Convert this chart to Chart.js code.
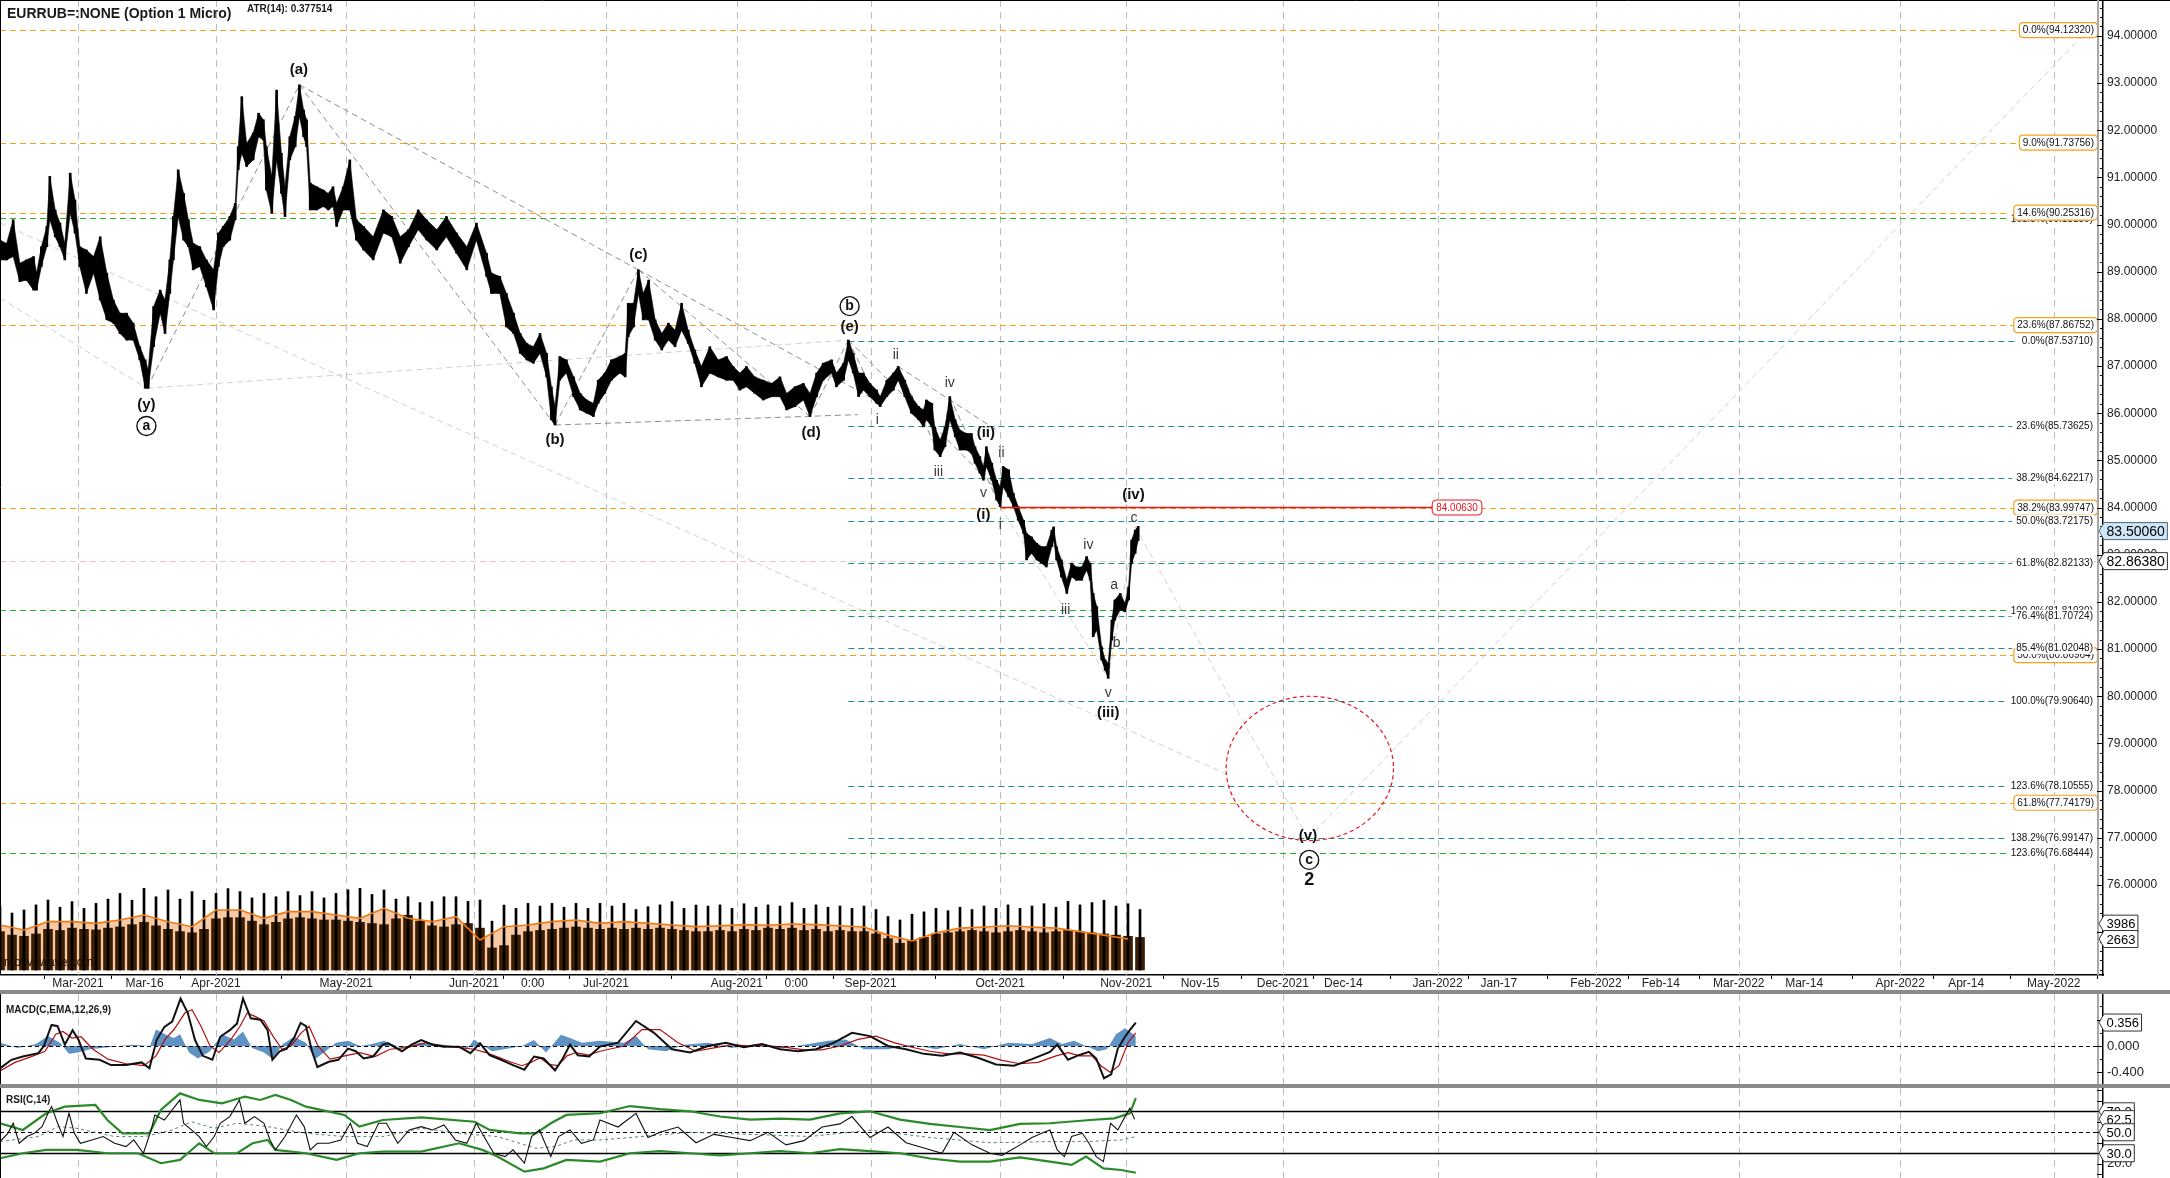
<!DOCTYPE html>
<html>
<head>
<meta charset="utf-8">
<script src="https://cdn.jsdelivr.net/npm/chart.js@4.4.1/dist/chart.umd.min.js"></script>
<style>
html,body{margin:0;padding:0;background:#fff;}
body{width:2170px;height:1178px;position:relative;overflow:hidden;}
canvas{position:absolute;left:0;}
.sep{position:absolute;left:0;width:2170px;height:4px;background:#8a8a8a;}
</style>
</head>
<body>
<canvas id="main" width="2170" height="990" style="top:0"></canvas>
<div class="sep" style="top:990px"></div>
<canvas id="macd" width="2170" height="90" style="top:994px"></canvas>
<div class="sep" style="top:1084px"></div>
<canvas id="rsi" width="2170" height="90" style="top:1088px"></canvas>
<script>
// ================= DATA =================
// x unit = bar index (trading-bar slots on the chart's time axis)
const dateTickBars = [13.0, 24.1, 36.0, 57.7, 79.0, 88.8, 101.0, 122.8, 132.7, 145.1, 166.7, 187.7, 200.0, 213.8, 223.9, 239.6, 249.8, 266.0, 276.8, 289.8, 300.7, 316.7, 327.7, 342.3];
const dateTickLabels = ['Mar-2021','Mar-16','Apr-2021','May-2021','Jun-2021','0:00','Jul-2021','Aug-2021','0:00','Sep-2021','Oct-2021','Nov-2021','Nov-15','Dec-2021','Dec-14','Jan-2022','Jan-17','Feb-2022','Feb-14','Mar-2022','Mar-14','Apr-2022','Apr-14','May-2022'];
const priceTicks = [76,77,78,79,80,81,82,83,84,85,86,87,88,89,90,91,92,93,94];

const priceBar = [0,1.1,2.2,3.3,4.4,5.6,6.1,6.9,7.8,8.3,9.2,10,10.8,11.7,12.5,13.3,14.4,15.6,16.7,17.8,
18.9,20,21.1,22.2,23.3,24.2,24.7,25.6,26.7,27.5,28.3,28.9,29.7,30.6,31.4,32.2,33.3,34.4,35.6,36.4,
37.2,38.3,39.2,39.7,40.3,41.1,42.2,43.1,43.9,44.4,45.3,46.1,46.9,47.5,48.3,49.2,49.9,50.6,51.1,51.7,
52.8,53.9,54.7,55.5,56.1,57.2,58.3,59.4,60.6,62.2,63.9,65.3,66.7,68.1,69.7,71.1,72.8,74.4,76.1,77.8,
79.4,81.1,81.9,83.3,84.4,85.6,86.7,87.8,88.9,90,91.1,91.9,92.5,93.3,94.4,95.6,96.7,97.8,98.9,99.7,
100.8,101.9,103.3,104.2,104.7,105.6,106.4,107.2,108.1,109.2,110.3,111.4,112.5,113.6,114.7,115.8,116.9,118.3,119.7,121.1,
122.2,123.3,124.4,125.8,127.2,128.6,130,131.1,132.5,133.9,135,136.1,137.2,138.6,139.4,140.6,141.4,142.2,143.1,143.9,
145,146.1,146.7,147.8,148.9,149.7,150.8,151.9,153.1,153.9,154.4,155.3,155.8,156.7,157.5,158.3,159.2,160,161.1,161.9,
162.5,163.3,163.9,164.4,165.3,166.1,166.7,167.2,168.1,168.9,169.7,170.6,171.1,171.9,172.8,173.6,174.4,175.3,175.6,176.1,
176.9,177.8,178.6,179.4,180.3,181.1,181.7,182.2,182.8,183.6,184.2,184.7,185.3,185.8,186.7,187.5,188.1,188.6,189.2,189.7];
const priceHigh = [89.67,89.60,90.10,89.18,89.25,89.32,88.97,89.53,89.96,91.02,90.31,90.03,89.60,91.09,90.52,89.53,89.46,89.32,89.74,88.97,
88.40,88.12,88.12,87.91,87.41,87.13,86.92,88.26,88.61,88.40,89.25,90.17,91.16,90.66,90.10,89.60,89.53,89.25,89.04,89.82,
89.96,90.17,90.45,91.65,92.71,91.72,91.94,92.36,92.22,91.65,91.02,92.85,91.51,90.80,91.86,92.29,92.96,92.43,92.22,90.88,
90.80,90.73,90.66,90.80,90.45,90.80,91.37,90.10,89.96,89.74,90.31,90.17,89.74,89.89,90.31,90.10,89.89,90.17,89.82,89.53,
90.03,89.39,88.97,88.90,88.54,88.12,87.69,87.48,87.41,87.69,87.27,86.56,86.14,87.20,87.13,86.77,86.42,86.28,86.21,86.70,
86.85,87.13,87.20,87.27,88.33,88.33,89.04,88.54,88.82,87.98,87.69,87.91,87.76,88.33,87.76,87.34,86.99,87.41,87.13,87.20,
86.99,86.85,86.99,86.77,86.70,86.63,86.77,86.42,86.56,86.63,86.42,86.85,87.06,87.13,86.85,87.06,87.55,87.27,86.85,86.85,
86.63,86.49,86.35,86.70,86.85,86.99,86.70,86.35,86.14,86.07,86.28,86.21,85.71,85.43,85.71,86.35,85.86,85.64,85.57,85.57,
85.29,85.08,84.87,85.29,84.94,84.58,84.44,84.87,84.80,84.30,84.02,83.73,83.45,83.38,83.24,83.17,83.17,83.52,83.59,83.17,
82.89,82.46,82.82,82.74,82.74,82.96,82.82,82.18,81.90,81.05,80.77,80.70,81.61,82.04,82.18,81.97,82.32,83.31,83.52,83.60];
const priceLow = [89.25,89.25,89.32,88.79,88.82,88.61,88.61,89.11,89.53,90.10,89.74,89.53,89.25,90.24,89.82,89.11,88.54,88.97,88.40,87.98,
87.91,87.69,87.55,87.55,87.13,86.53,86.53,87.41,88.12,87.69,88.54,89.25,90.17,89.67,89.53,89.04,89.11,88.68,88.19,89.11,
89.53,89.67,90.10,91.16,91.51,91.23,91.37,91.86,91.79,90.73,90.24,91.37,90.66,90.17,91.37,91.65,92.29,91.86,91.65,90.31,
90.31,90.38,90.31,90.38,89.96,90.31,90.31,89.67,89.46,89.25,89.82,89.74,89.18,89.53,89.89,89.67,89.46,89.74,89.39,89.04,
89.67,88.90,88.54,88.54,87.83,87.69,87.27,87.13,87.06,87.27,86.77,85.86,85.75,86.70,86.85,86.35,86.07,86.00,85.93,86.21,
86.42,86.70,86.85,86.77,87.62,87.83,88.54,87.98,87.98,87.55,87.34,87.55,87.41,87.76,87.48,87.06,86.56,86.85,86.77,86.70,
86.70,86.49,86.56,86.42,86.28,86.35,86.35,86.07,86.14,86.28,85.93,86.35,86.70,86.85,86.56,86.70,87.13,86.85,86.35,86.49,
86.35,86.21,86.14,86.35,86.49,86.70,86.35,86.00,85.86,85.71,85.86,85.71,85.22,85.08,85.29,85.86,85.50,85.22,85.22,85.15,
84.94,84.73,84.58,84.87,84.58,84.16,84.02,84.44,84.23,84.02,83.73,83.45,82.89,83.03,82.89,82.82,82.74,83.17,83.31,82.89,
82.53,82.18,82.53,82.46,82.46,82.67,82.46,81.26,81.40,80.77,80.55,80.38,81.19,81.61,81.83,81.79,82.04,82.82,83.03,83.30];
const lastPrice = 83.50060;
const markPrice = 82.86380;

const volBar = [0,2,4,6,8,10,12,14,16,18,20,22,24,26,28,30,32,34,36,38,40,42,44,46,48,50,52,54,56,58,60,62,64,66,68,70,72,74,76,78,80,82,84,86,88,90,92,94,
96,98,100,102,104,106,108,110,112,114,116,118,120,122,124,126,128,130,132,134,136,138,140,142,144,146,148,150,152,154,156,158,160,162,164,166,168,170,172,174,176,178,180,182,184,186,188,190];
const volSpike = [5450,4900,5160,5600,6020,5400,5880,5300,5730,6100,6590,6000,7020,6300,6880,6100,6740,6000,6590,7000,6740,6200,6590,6300,
6740,6400,6740,6200,6590,6900,7020,6500,6880,6100,6300,5800,5880,6300,6300,5900,6020,4200,5590,5300,5730,5500,5730,5400,
5730,5300,5730,5500,5730,5200,5450,5600,5880,5300,5590,5500,5600,5300,5700,5400,5600,5500,5800,5300,5600,5400,5500,5300,
5500,5200,4600,4300,4800,5000,5300,5100,5400,5200,5500,5300,5600,5300,5500,5700,5400,5900,5600,5800,6000,5500,5700,5200];
const volBody = [3300,3000,2900,3100,3500,3400,3600,3500,3450,3600,3700,3900,4100,3800,3500,3300,3200,3500,4400,4500,4500,4200,3900,4100,
4400,4500,4400,4300,4300,4200,4100,4000,3900,4400,4700,4200,3800,3700,3900,4000,3600,1900,2100,3000,3300,3400,3500,3600,
3700,3600,3500,3600,3500,3600,3500,3600,3500,3400,3300,3300,3400,3300,3500,3400,3600,3500,3600,3400,3500,3300,3400,3300,
3300,3100,2700,2300,2500,2800,3100,3200,3300,3400,3300,3200,3300,3400,3300,3200,3300,3400,3300,3200,3100,3000,2900,2800];
const volMABar = [0,4,8,12,16,20,24,28,32,36,40,44,48,52,56,60,64,68,72,76,80,84,88,92,96,100,104,108,112,116,120,124,128,132,136,140,144,148,152,156,160,164,168,172,176,180,184,188];
const volMA = [3870,3440,4157,4157,4013,4300,4730,4157,3727,5160,5160,4443,5017,5017,4730,4443,5303,4443,4157,4587,2580,3727,3870,4157,
4300,4013,4157,4013,3870,3727,3800,3900,3850,3950,3900,3800,3700,3000,2500,3200,3600,3700,3800,3700,3600,3300,3000,2663];
const lastVolume = 3986;
const lastVolumeMA = 2663;

// Fibonacci levels
const orangeFibPrice = [94.12320, 91.73756, 90.25316, 87.86752, 83.99747, 80.86964, 77.74179];
const orangeFibText = ['0.0%(94.12320)','9.0%(91.73756)','14.6%(90.25316)','23.6%(87.86752)','38.2%(83.99747)','50.0%(80.86964)','61.8%(77.74179)'];
const greenFibPrice = [90.13180, 81.81930, 76.68444];
const greenFibText = ['161.8%(90.13180)','100.0%(81.81930)','123.6%(76.68444)'];
const tealFibStartBar = 141.4;
const tealFibPrice = [87.53710, 85.73625, 84.62217, 83.72175, 82.82133, 81.70724, 81.02048, 79.90640, 78.10555, 76.99147];
const tealFibText = ['0.0%(87.53710)','23.6%(85.73625)','38.2%(84.62217)','50.0%(83.72175)','61.8%(82.82133)','76.4%(81.70724)','85.4%(81.02048)','100.0%(79.90640)','123.6%(78.10555)','138.2%(76.99147)'];
const redLevelPrice = 84.00630;
const redLevelStartBar = 166.7;
const redLevelEndBar = 238.7;

// Elliott wave labels
const waveText  = ['(a)','(y)','(b)','(c)','(d)','(e)','i','ii','iii','iv','v','(ii)','ii','(i)','i','iii','iv','a','b','v','(iii)','c','(iv)','(v)'];
const waveBar   = [49.8,24.4,92.5,106.4,135.2,141.6,146.2,149.3,156.4,158.3,163.9,164.3,166.9,163.9,166.7,177.6,181.4,185.7,186.1,184.7,184.7,189.0,188.9,218.0];
const wavePrice = [93.28,86.17,85.43,89.36,85.59,87.82,85.86,87.23,84.76,86.63,84.30,85.59,85.15,83.84,83.62,81.83,83.20,82.36,81.13,80.06,79.64,83.77,84.26,77.03];
const circledText  = ['a','b','c'];
const circledBar   = [24.4,141.6,218.2];
const circledPrice = [85.73,88.27,76.53];
const degreeText = '2';
const degreeBar = 218.2, degreePrice = 76.10;

// wave connector segments [bar1, price1, bar2, price2]
const waveSegments = [
  [24.5,86.53,49.9,92.96],[49.9,92.96,92.5,85.75],[92.5,85.75,106.4,89.04],[106.4,89.04,135.0,85.93],[135.0,85.93,141.4,87.55],
  [49.9,92.96,106.4,89.04],[106.4,89.04,145.0,86.34],[92.5,85.75,143.0,85.97],
  [141.4,87.55,146.7,86.14],[146.7,86.14,149.7,86.99],[149.7,86.99,156.7,85.08],[156.7,85.08,158.3,86.35],[158.3,86.35,166.7,84.02],
  [141.4,87.55,166.0,84.40],[149.7,86.99,166.0,85.65]
];
const lightSegments = [
  [24.5,86.53,141.4,87.55],[0,88.44,24.5,86.53],[0,90.03,204.7,78.33],[189.2,83.60,218.0,76.99],[218.0,76.99,349.5,94.32],
  [166.7,84.02,184.7,80.38],[184.7,80.38,189.2,83.60]
];
// target zone (ellipse)
const zoneCenterBar = 218.3, zoneCenterPrice = 78.47, zoneHalfBars = 13.95, zoneHalfPrice = 1.53;

// MACD(12,26,9)
const macdBar = [0,1.9,3.8,6.4,7.3,8.6,9.6,10.8,12.1,13.1,14.3,16.6,18.5,21.0,23.6,24.9,26.1,27.4,28.7,30.1,31.3,32.5,33.8,35.4,36.7,38.3,39.5,40.5,41.8,43.4,44.6,45.4,46.6,47.8,49.1,50.1,51.0,52.0,52.9,54.8,56.4,58.0,59.3,60.6,62.2,63.8,64.7,67.0,68.6,70.2,72.1,74.0,76.5,78.4,80.0,81.6,83.5,85.5,87.4,89.0,90.6,92.5,93.8,95.0,96.3,98.2,100,
103,106,109,112,115,118,121,124,127,130,133,136,139,142,145,148,151,154,157,160,163,166,169,172,
175,176.2,178,179.8,181.5,182.7,184,185.2,186.3,187.5,188.3,189.3];
const macdVal = [-0.34,-0.21,-0.16,-0.11,0.0,0.32,0.30,0.02,0.24,0.09,-0.19,-0.21,-0.29,-0.29,-0.25,-0.34,0.09,0.29,0.37,0.72,0.50,0.09,-0.15,-0.21,0.14,0.24,0.34,0.72,0.42,0.40,0.24,-0.21,-0.08,-0.04,0.14,0.35,0.30,-0.08,-0.32,-0.24,-0.21,-0.04,-0.08,-0.19,-0.16,0.02,0.04,-0.08,0.02,0.09,0.02,-0.01,-0.01,-0.11,0.04,-0.14,-0.21,-0.29,-0.36,-0.16,-0.19,-0.37,-0.19,0.02,-0.14,-0.16,-0.01,
0.05,0.38,0.2,-0.05,-0.1,0.0,0.05,-0.02,0.03,-0.05,-0.08,-0.05,0.05,0.2,0.15,0.0,-0.05,-0.12,-0.15,-0.1,-0.18,-0.28,-0.3,-0.2,
-0.09,0.02,-0.21,-0.14,-0.09,-0.19,-0.49,-0.43,-0.04,0.14,0.24,0.356];
const signalBar = [0,2.5,5,7.5,9.3,10.5,12,13.5,15.5,18,21,24,26,27.5,29,30.8,32,33.5,35,36.5,38.5,40,41.2,42.5,44,45.5,47,48.5,50.2,51.5,53,55,57.5,60,62.5,65,68,71,74,77,79,81,83,85,87,88.5,90,91.5,93,94.5,96,98,100,
104,107,110,113,116,119,122,125,128,131,134,137,140,143,146,149,152,155,158,161,164,167,170,173,
176,178,180,182,183.5,185,186.5,188,189.3];
const signalVal = [-0.38,-0.25,-0.17,-0.08,0.18,0.22,0.12,0.14,-0.05,-0.2,-0.27,-0.3,-0.15,0.1,0.25,0.5,0.55,0.3,0.0,-0.1,0.1,0.3,0.5,0.45,0.38,0.15,-0.05,0.0,0.2,0.3,0.0,-0.2,-0.15,-0.1,-0.16,-0.05,-0.02,0.05,0.0,-0.03,-0.05,-0.1,-0.17,-0.24,-0.3,-0.25,-0.18,-0.28,-0.3,-0.15,-0.1,-0.14,-0.08,
0.0,0.25,0.25,0.05,-0.08,-0.03,0.02,0.0,0.0,-0.02,-0.06,-0.06,0.0,0.1,0.15,0.05,-0.02,-0.08,-0.12,-0.12,-0.14,-0.22,-0.27,-0.25,
-0.15,-0.1,-0.15,-0.15,-0.3,-0.4,-0.3,0.05,0.2];
const histBar = [0,3,6,8,10,11.5,13,15,18,22,25,26,27.5,29,30,31.5,33,35,37,39,40.5,42,44,45.5,47,49,51,52.5,54,56,58,60,62,64,67,70,74,78,79,82,84,87,89,91,93.5,95,97,100,
104,106,108,111,114,118,122,126,130,134,138,141,144,148,152,156,160,164,168,172,
175,177,179,181,183,184.5,186,187.5,189.3];
const histVal = [0.05,-0.03,0.03,0.15,0.05,-0.12,-0.1,-0.05,-0.02,0.02,0.0,0.25,0.18,0.12,0.18,-0.1,-0.19,-0.08,0.18,0.1,0.22,-0.03,-0.1,-0.2,0.02,0.14,0.05,-0.2,-0.1,0.05,0.08,0.0,0.03,0.08,-0.03,0.05,0.02,-0.03,0.1,-0.08,-0.05,0.0,0.09,-0.1,0.17,0.12,0.05,0.08,
0.05,0.15,-0.05,-0.08,0.02,0.05,-0.03,0.03,-0.04,0.02,0.08,0.1,-0.05,-0.05,0.02,-0.05,0.03,-0.05,0.05,0.03,
0.12,0.03,0.08,0.0,-0.08,-0.05,0.18,0.27,0.15];
const macdTicks = [-0.4, 0, 0.4];

// RSI(14)
const rsiBar = [0,1.3,2.2,3.2,4.5,5.7,7.0,8.0,8.6,9.6,10.5,11.5,12.4,13.4,15.3,17.2,19.1,21.0,22.3,23.9,25.2,25.8,27.4,28.7,30.0,30.6,31.9,33.2,34.4,35.7,36.7,38.3,39.9,40.8,42.4,44.0,45.0,45.9,47.5,49.4,50.7,51.7,52.9,54.8,56.8,58.4,59.6,61.2,63.1,64.4,66.3,68.2,70.2,72.1,74.0,75.9,77.8,79.4,81.0,82.3,84.2,85.5,87.4,88.6,89.9,91.8,93.1,95.0,96.9,98.9,100,
103,106,108,110,113,116,119,122,125,128,131,134,137,140,142,145,148,151,154,157,159,162,165,167,170,172,174,
175,176.2,177.4,178.6,180.4,181.5,182.7,183.9,185.1,186.3,187.5,188.3,189.1];
const rsiVal = [41.1,49,58.6,39.5,45.9,49,55.4,68.1,74.4,58.6,45.9,68.1,49,39.5,42.7,45.9,39.5,36.3,42.7,30,52.2,66.5,61.7,71.3,80.8,58.6,52.2,45.9,36.3,45.9,58.6,64.9,80.8,58.6,64.9,58.6,42.7,33.2,45.9,66.5,55.4,33.2,39.5,39.5,42.7,58.6,39.5,36.3,58.6,58.6,39.5,52.2,55.4,52.2,57,42.7,39.5,58.6,42.7,30,26.8,33.2,20.5,45.9,52.2,26.8,45.9,52.2,39.5,42.7,61.7,
55,68,45,50,55,40,48,45,42,50,38,42,55,58,65,45,55,40,35,30,50,38,30,28,38,45,50,
52.2,33.2,26.8,45.9,49,39.5,26.8,22,58.6,52.2,64.9,72.9,62.5];
const rsiUpBar = [0,3.8,7.7,10.8,15.9,17.9,20.4,24.9,26.8,30,33.2,37,38.9,40.8,43.4,45.9,48.5,51,57.4,59.9,63.8,70.2,79.1,81.6,86.7,89.3,91.8,94.4,100,
105,110,115,120,125,130,135,140,145,150,155,160,165,170,175,181.7,185.7,188.3,189.3];
const rsiUpVal = [58.6,52.2,68.1,74.4,76,61.7,49,49,71.3,87.1,80.8,77.6,80.8,84,80.8,85.6,80.8,74.4,66.5,55.4,61.7,64.2,60,52.2,49,49,58.6,66.5,68.1,
75,72,70,65,62,63,62,68,70,62,58,55,52,58,58.6,61.7,63.3,68,82.5];
const rsiLoBar = [0,3.8,7.7,12.8,17.9,23,26.8,30,33.2,35.7,39.5,42.1,44.6,45.9,51,56.1,59.9,63.8,70.2,76.5,80.4,82.9,87.4,90.6,94.4,100,
105,110,115,120,125,130,135,140,145,150,155,160,165,170,175,178.6,181,183.9,186.9,189.3];
const rsiLoVal = [25.2,30,33.2,33.2,30,30,20.5,23.7,39.5,30,30,39.5,42.7,33.2,30,23.7,30,31.6,31.6,39.5,33.2,26.8,12.5,15.6,23.7,22,
30,32,30,28,30,32,30,34,32,30,25,22,22,26,22,18.9,26.8,15.6,14,11.4];
const rsiMaBar = [0,6.4,9.6,12.8,19.1,24.2,28.7,31.9,35.7,39.5,44.6,51,57.4,63.8,70.2,76.5,82.9,89.3,92.5,95.7,100,
105,115,125,135,145,155,165,175,181,186.9,189.3];
const rsiMaVal = [41.1,45.9,55.4,53.8,45.9,45.9,52.2,60,53.8,58.6,55.4,49,45.9,45.9,53.8,49,45.9,34.8,36.3,42.7,42.7,
45,50,48,46,52,45,40,41.1,41.1,42.7,45.9];
const rsiLevels = [70, 50, 30];
const rsiLast = 62.5;

// ================= RENDERING =================
const X_MAX = 350.5;
const P_MIN = 74.09, P_MAX = 94.76;
const VOL_MIN = -430, VOL_MAX = 83420;
const M_MIN = -0.578, M_MAX = 0.790;
const R_MIN = 6.4, R_MAX = 92.2;
const AXIS_W = 67;
const SANS = "'Liberation Sans', Arial, sans-serif";
const NARROW = "'Liberation Sans Narrow', 'Liberation Sans', Arial, sans-serif";
const monthGridBars = dateTickBars.filter((b, i) => /-20\d\d$/.test(dateTickLabels[i]));

const pts = (xs, ys) => xs.map((x, i) => ({x, y: ys[i]}));
function noPad(s) { s.paddingTop = 0; s.paddingBottom = 0; s.paddingLeft = 0; s.paddingRight = 0; }

function drawMonthGrid(chart) {
  const {ctx, chartArea: a, scales: {x}} = chart;
  ctx.save();
  ctx.strokeStyle = '#bdbdbd'; ctx.lineWidth = 1; ctx.setLineDash([7, 5]);
  monthGridBars.forEach(b => {
    const px = Math.round(x.getPixelForValue(b)) + 0.5;
    ctx.beginPath(); ctx.moveTo(px, a.top); ctx.lineTo(px, a.bottom); ctx.stroke();
  });
  ctx.restore();
}
function drawPanelFrame(chart, minorVals, majorVals) {
  const {ctx, chartArea: a, scales: {y}} = chart;
  ctx.save();
  ctx.strokeStyle = '#000'; ctx.lineWidth = 1;
  ctx.beginPath(); ctx.moveTo(0.5, 0); ctx.lineTo(0.5, chart.height); ctx.stroke();
  ctx.strokeStyle = '#a8a8a8'; ctx.lineWidth = 2;
  ctx.beginPath(); ctx.moveTo(a.right - 5, a.top); ctx.lineTo(a.right - 5, a.bottom); ctx.stroke();
  ctx.strokeStyle = '#000'; ctx.lineWidth = 1;
  minorVals.forEach(v => { const py = Math.round(y.getPixelForValue(v)) + 0.5; ctx.beginPath(); ctx.moveTo(a.right - 3, py); ctx.lineTo(a.right, py); ctx.stroke(); });
  majorVals.forEach(v => { const py = Math.round(y.getPixelForValue(v)) + 0.5; ctx.beginPath(); ctx.moveTo(a.right - 6, py); ctx.lineTo(a.right, py); ctx.stroke(); });
  ctx.restore();
}
function drawTag(ctx, xTip, y, text, font, fill, stroke) {
  ctx.save();
  ctx.font = font;
  const w = ctx.measureText(text).width + 5;
  const h = 17, x0 = xTip + 5;
  ctx.beginPath();
  ctx.moveTo(xTip, y); ctx.lineTo(x0, y - h / 2); ctx.lineTo(x0 + w, y - h / 2);
  ctx.lineTo(x0 + w, y + h / 2); ctx.lineTo(x0, y + h / 2); ctx.closePath();
  ctx.fillStyle = fill; ctx.fill();
  ctx.strokeStyle = stroke; ctx.lineWidth = 1; ctx.stroke();
  ctx.fillStyle = '#000'; ctx.textAlign = 'left'; ctx.textBaseline = 'middle';
  ctx.fillText(text, x0 + 2.5, y + 1);
  ctx.restore();
}
function roundRect(ctx, x, y, w, h, r) {
  ctx.beginPath();
  ctx.moveTo(x + r, y); ctx.lineTo(x + w - r, y); ctx.quadraticCurveTo(x + w, y, x + w, y + r);
  ctx.lineTo(x + w, y + h - r); ctx.quadraticCurveTo(x + w, y + h, x + w - r, y + h);
  ctx.lineTo(x + r, y + h); ctx.quadraticCurveTo(x, y + h, x, y + h - r);
  ctx.lineTo(x, y + r); ctx.quadraticCurveTo(x, y, x + r, y); ctx.closePath();
}
const FIB_FONT = '10px ' + SANS;
function fibLabelLeft(ctx, text, boxed) {
  ctx.font = FIB_FONT;
  const w = ctx.measureText(text).width;
  return (boxed ? 2094 : 2093) - w - (boxed ? 3 : 0);
}
function drawFibLabel(ctx, text, py, color, boxed) {
  ctx.save();
  ctx.font = FIB_FONT;
  const w = ctx.measureText(text).width;
  const right = boxed ? 2094 : 2093;
  const left = right - w;
  if (boxed) {
    roundRect(ctx, left - 3.5, py - 7.5, w + 7, 15, 4);
    ctx.fillStyle = '#fff'; ctx.fill();
    ctx.strokeStyle = color; ctx.lineWidth = 1.2; ctx.stroke();
  } else {
    ctx.fillStyle = '#fff'; ctx.fillRect(left - 1, py - 6, w + 2, 12);
  }
  ctx.fillStyle = '#111'; ctx.textAlign = 'left'; ctx.textBaseline = 'middle';
  ctx.fillText(text, left, py + 0.5);
  ctx.restore();
}
const ORANGE = '#f7a11a', TEAL = '#1f8e8a', GREEN = '#29b529';

const mainDeco = {
  id: 'mainDeco',
  beforeDatasetsDraw(chart) {
    const {ctx, chartArea: a, scales: {x, y}} = chart;
    drawMonthGrid(chart);
    ctx.save();
    ctx.lineWidth = 1; ctx.setLineDash([6, 4]);
    const hline = (price, startBar, endPx, color) => {
      const py = Math.round(y.getPixelForValue(price)) + 0.5;
      ctx.strokeStyle = color;
      ctx.beginPath(); ctx.moveTo(x.getPixelForValue(startBar), py); ctx.lineTo(endPx, py); ctx.stroke();
    };
    hline(markPrice, 0, a.right - 6, '#f2c4c4');
    greenFibPrice.forEach((p, i) => hline(p, 0, fibLabelLeft(ctx, greenFibText[i], false) - 3, GREEN));
    orangeFibPrice.forEach((p, i) => hline(p, 0, fibLabelLeft(ctx, orangeFibText[i], true) - 1, ORANGE));
    tealFibPrice.forEach((p, i) => hline(p, tealFibStartBar, fibLabelLeft(ctx, tealFibText[i], false) - 4, TEAL));
    ctx.restore();
  },
  afterDatasetsDraw(chart) {
    const {ctx, chartArea: a, scales: {x, y}} = chart;
    ctx.save();
    const ry = Math.round(y.getPixelForValue(redLevelPrice)) + 0.5;
    ctx.strokeStyle = '#e8141e'; ctx.lineWidth = 1.6;
    ctx.beginPath(); ctx.moveTo(x.getPixelForValue(redLevelStartBar), ry); ctx.lineTo(x.getPixelForValue(redLevelEndBar), ry); ctx.stroke();
    ctx.font = FIB_FONT;
    const rt = redLevelPrice.toFixed(5);
    const rw = ctx.measureText(rt).width;
    const rx = x.getPixelForValue(redLevelEndBar);
    roundRect(ctx, rx, ry - 7.5, rw + 8, 15, 4);
    ctx.fillStyle = '#fff'; ctx.fill(); ctx.strokeStyle = '#e8141e'; ctx.lineWidth = 1; ctx.stroke();
    ctx.fillStyle = '#e8141e'; ctx.textBaseline = 'middle'; ctx.fillText(rt, rx + 4, ry + 0.5);
    ctx.restore();
    greenFibPrice.forEach((p, i) => drawFibLabel(ctx, greenFibText[i], y.getPixelForValue(p), GREEN, false));
    orangeFibPrice.forEach((p, i) => drawFibLabel(ctx, orangeFibText[i], y.getPixelForValue(p), ORANGE, true));
    tealFibPrice.forEach((p, i) => drawFibLabel(ctx, tealFibText[i], y.getPixelForValue(p), TEAL, false));
    ctx.save();
    const cx = x.getPixelForValue(zoneCenterBar), cy = y.getPixelForValue(zoneCenterPrice);
    const erx = x.getPixelForValue(zoneCenterBar + zoneHalfBars) - cx;
    const ery = y.getPixelForValue(zoneCenterPrice - zoneHalfPrice) - cy;
    ctx.strokeStyle = '#e8141e'; ctx.lineWidth = 1.2; ctx.setLineDash([4, 3]);
    ctx.beginPath(); ctx.ellipse(cx, cy, erx, ery, 0, 0, Math.PI * 2); ctx.stroke();
    ctx.restore();
    ctx.save();
    ctx.textAlign = 'center'; ctx.textBaseline = 'middle';
    waveText.forEach((t, i) => {
      const px = x.getPixelForValue(waveBar[i]), py = y.getPixelForValue(wavePrice[i]);
      if (t.startsWith('(')) { ctx.font = 'bold 15px ' + SANS; ctx.fillStyle = '#111'; }
      else { ctx.font = '14px ' + SANS; ctx.fillStyle = '#3a3a3a'; }
      ctx.fillText(t, px, py);
    });
    circledText.forEach((t, i) => {
      const px = x.getPixelForValue(circledBar[i]), py = y.getPixelForValue(circledPrice[i]);
      ctx.beginPath(); ctx.arc(px, py, 9.5, 0, Math.PI * 2);
      ctx.fillStyle = '#fff'; ctx.fill();
      ctx.strokeStyle = '#111'; ctx.lineWidth = 1.4; ctx.stroke();
      ctx.fillStyle = '#111'; ctx.font = 'bold 14px ' + SANS; ctx.fillText(t, px, py);
    });
    ctx.font = 'bold 18px ' + SANS; ctx.fillStyle = '#111';
    ctx.fillText(degreeText, x.getPixelForValue(degreeBar), y.getPixelForValue(degreePrice));
    ctx.restore();
  },
  afterDraw(chart) {
    const {ctx, chartArea: a, scales: {y, yv}} = chart;
    ctx.save();
    ctx.strokeStyle = '#000'; ctx.lineWidth = 1;
    ctx.beginPath(); ctx.moveTo(0, 0.5); ctx.lineTo(2170, 0.5); ctx.stroke();
    ctx.beginPath(); ctx.moveTo(0.5, 0); ctx.lineTo(0.5, a.bottom); ctx.stroke();
    ctx.strokeStyle = '#a8a8a8'; ctx.lineWidth = 2;
    ctx.beginPath(); ctx.moveTo(a.right - 5, a.top); ctx.lineTo(a.right - 5, a.bottom); ctx.stroke();
    ctx.strokeStyle = '#000'; ctx.lineWidth = 1;
    for (let v = 74.2; v <= 94.7; v += 0.2) {
      const r = Math.abs(v - Math.round(v)) < 0.01;
      const py = Math.round(y.getPixelForValue(v)) + 0.5;
      ctx.beginPath(); ctx.moveTo(a.right - (r ? 6 : 3), py); ctx.lineTo(a.right, py); ctx.stroke();
    }
    ctx.font = '12px ' + SANS; ctx.fillStyle = '#161008'; ctx.textBaseline = 'alphabetic';
    ctx.fillText('motivewave.com', 4, 966);
    ctx.fillStyle = '#1a1a1a';
    ctx.font = 'bold 14px ' + SANS; ctx.fillText('EURRUB=:NONE (Option 1 Micro)', 7, 18);
    ctx.font = 'bold 10px ' + SANS; ctx.fillText('ATR(14): 0.377514', 247, 12);
    ctx.restore();
    drawTag(ctx, a.right - 4, y.getPixelForValue(lastPrice), lastPrice.toFixed(5), '14px ' + SANS, '#cfe6f6', '#4a6a80');
    drawTag(ctx, a.right - 4, y.getPixelForValue(markPrice), markPrice.toFixed(5), '14px ' + SANS, '#ffffff', '#333');
    drawTag(ctx, a.right - 4, yv.getPixelForValue(lastVolume), String(lastVolume), '13px ' + SANS, '#ffffff', '#333');
    drawTag(ctx, a.right - 4, yv.getPixelForValue(lastVolumeMA), String(lastVolumeMA), '13px ' + SANS, '#ffffff', '#333');
  }
};

const lineDs = (data, color, width, extra) => Object.assign({type: 'line', data, borderColor: color, borderWidth: width, pointRadius: 0, tension: 0, fill: false}, extra || {});

const mainDatasets = [
  {type: 'bar', data: priceBar.map((b, i) => ({x: b, y: [priceLow[i], priceHigh[i]]})), backgroundColor: '#000', barThickness: 2, grouped: false, order: 1},
  lineDs(pts(priceBar, priceHigh), '#000', 0.6, {fill: '+1', backgroundColor: '#000', order: 2}),
  lineDs(pts(priceBar, priceLow), '#000', 0.6, {order: 2}),
];
waveSegments.forEach(s => mainDatasets.push(lineDs([{x: s[0], y: s[1]}, {x: s[2], y: s[3]}], '#8e8e8e', 1, {borderDash: [6, 4], order: 4})));
lightSegments.forEach(s => mainDatasets.push(lineDs([{x: s[0], y: s[1]}, {x: s[2], y: s[3]}], '#d0d0d0', 1, {borderDash: [6, 4], order: 5})));
mainDatasets.push(lineDs(pts(volMABar, volMA), '#f07a10', 1.6, {yAxisID: 'yv', order: 6}));
mainDatasets.push({type: 'bar', data: pts(volBar, volSpike), yAxisID: 'yv', backgroundColor: '#000', barThickness: 2, grouped: false, order: 7});
mainDatasets.push({type: 'bar', data: pts(volBar, volBody), yAxisID: 'yv', backgroundColor: '#3c1d02', barThickness: 9, grouped: false, order: 8});
mainDatasets.push(lineDs(pts(volMABar, volMA), 'rgba(0,0,0,0)', 0, {yAxisID: 'yv', fill: 'origin', backgroundColor: '#f8c9a2', order: 9}));

const commonOpts = {
  responsive: false, animation: false, devicePixelRatio: 1, events: [],
  layout: {padding: 0},
  plugins: {legend: {display: false}, tooltip: {enabled: false}},
};

new Chart(document.getElementById('main'), {
  type: 'bar',
  data: {datasets: mainDatasets},
  options: Object.assign({}, commonOpts, {
    scales: {
      x: {type: 'linear', min: 0, max: X_MAX, offset: false, position: 'bottom',
        afterBuildTicks: s => { s.ticks = dateTickBars.map(v => ({value: v})); },
        afterFit: s => { s.height = 15; noPad(s); },
        ticks: {autoSkip: false, maxRotation: 0, minRotation: 0, padding: -3, color: '#222', font: {family: NARROW, size: 12}, callback: (v, i) => dateTickLabels[i]},
        grid: {drawOnChartArea: false, drawTicks: true, tickLength: 4, tickColor: '#000'},
        border: {color: '#000', width: 1.5}},
      y: {type: 'linear', position: 'right', min: P_MIN, max: P_MAX,
        afterBuildTicks: s => { s.ticks = priceTicks.map(v => ({value: v})); },
        afterFit: s => { s.width = AXIS_W; noPad(s); },
        ticks: {padding: 4, color: '#222', font: {family: SANS, size: 12}, callback: v => Number(v).toFixed(5)},
        grid: {drawOnChartArea: false, drawTicks: false},
        border: {color: '#000', width: 1.5}},
      yv: {type: 'linear', display: false, min: VOL_MIN, max: VOL_MAX}
    }
  }),
  plugins: [mainDeco]
});

// ---------- MACD ----------
const macdDeco = {
  id: 'macdDeco',
  beforeDatasetsDraw(chart) { drawMonthGrid(chart); },
  afterDatasetsDraw(chart) {
    const {ctx, chartArea: a, scales: {y}} = chart;
    ctx.save();
    const py = Math.round(y.getPixelForValue(0)) + 0.5;
    ctx.strokeStyle = '#000'; ctx.lineWidth = 1.2; ctx.setLineDash([4, 3]);
    ctx.beginPath(); ctx.moveTo(0, py); ctx.lineTo(a.right, py); ctx.stroke();
    ctx.restore();
  },
  afterDraw(chart) {
    const {ctx, chartArea: a, scales: {y}} = chart;
    drawPanelFrame(chart, [-0.6, -0.2, 0.2, 0.6], [-0.4, 0, 0.4]);
    ctx.save();
    ctx.font = 'bold 10px ' + SANS; ctx.fillStyle = '#1a1a1a'; ctx.textBaseline = 'alphabetic';
    ctx.fillText('MACD(C,EMA,12,26,9)', 6, 19);
    ctx.restore();
    drawTag(ctx, a.right - 4, y.getPixelForValue(macdVal[macdVal.length - 1]), macdVal[macdVal.length - 1].toFixed(3), '13px ' + NARROW, '#fff', '#333');
  }
};
new Chart(document.getElementById('macd'), {
  type: 'line',
  data: {datasets: [
    lineDs(pts(macdBar, macdVal), '#111', 2, {order: 1}),
    lineDs(pts(signalBar, signalVal), '#b01010', 1.2, {order: 2}),
    lineDs(pts(histBar, histVal), 'rgba(0,0,0,0)', 0, {fill: 'origin', backgroundColor: '#5f93c4', order: 3}),
  ]},
  options: Object.assign({}, commonOpts, {
    scales: {
      x: {type: 'linear', min: 0, max: X_MAX, display: false},
      y: {type: 'linear', position: 'right', min: M_MIN, max: M_MAX,
        afterBuildTicks: s => { s.ticks = macdTicks.map(v => ({value: v})); },
        afterFit: s => { s.width = AXIS_W; noPad(s); },
        ticks: {padding: 4, color: '#222', font: {family: NARROW, size: 13}, callback: v => Number(v).toFixed(3)},
        grid: {drawOnChartArea: false, drawTicks: false},
        border: {color: '#000', width: 1.5}}
    }
  }),
  plugins: [macdDeco]
});

// ---------- RSI ----------
const rsiDeco = {
  id: 'rsiDeco',
  beforeDatasetsDraw(chart) {
    const {ctx, chartArea: a, scales: {y}} = chart;
    drawMonthGrid(chart);
    ctx.save();
    rsiLevels.forEach(v => {
      const py = Math.round(y.getPixelForValue(v)) + 0.5;
      ctx.strokeStyle = '#000';
      if (v === 50) { ctx.setLineDash([4, 3]); ctx.lineWidth = 1.2; } else { ctx.setLineDash([]); ctx.lineWidth = 1.5; }
      ctx.beginPath(); ctx.moveTo(0, py); ctx.lineTo(a.right, py); ctx.stroke();
    });
    ctx.restore();
  },
  afterDraw(chart) {
    const {ctx, chartArea: a, scales: {y}} = chart;
    drawPanelFrame(chart, [], [10, 20, 30, 40, 50, 60, 70, 80, 90]);
    ctx.save();
    ctx.font = 'bold 10px ' + SANS; ctx.fillStyle = '#1a1a1a'; ctx.textBaseline = 'alphabetic';
    ctx.fillText('RSI(C,14)', 6, 15);
    ctx.restore();
    const f = '13px ' + NARROW;
    drawTag(ctx, a.right - 4, y.getPixelForValue(70), '70.0', f, '#fff', '#333');
    drawTag(ctx, a.right - 4, y.getPixelForValue(rsiLast), rsiLast.toFixed(1), f, '#fff', '#333');
    drawTag(ctx, a.right - 4, y.getPixelForValue(50), '50.0', f, '#fff', '#333');
    drawTag(ctx, a.right - 4, y.getPixelForValue(30), '30.0', f, '#fff', '#333');
  }
};
new Chart(document.getElementById('rsi'), {
  type: 'line',
  data: {datasets: [
    lineDs(pts(rsiBar, rsiVal), '#111', 1.1, {order: 1}),
    lineDs(pts(rsiMaBar, rsiMaVal), '#5c7d7d', 1, {borderDash: [3, 3], order: 2}),
    lineDs(pts(rsiUpBar, rsiUpVal), '#2a8a2a', 2.2, {order: 3}),
    lineDs(pts(rsiLoBar, rsiLoVal), '#2a8a2a', 2.2, {order: 3}),
  ]},
  options: Object.assign({}, commonOpts, {
    scales: {
      x: {type: 'linear', min: 0, max: X_MAX, display: false},
      y: {type: 'linear', position: 'right', min: R_MIN, max: R_MAX,
        afterBuildTicks: s => { s.ticks = [{value: 20}]; },
        afterFit: s => { s.width = AXIS_W; noPad(s); },
        ticks: {padding: 4, color: '#222', font: {family: NARROW, size: 13}, callback: v => Number(v).toFixed(1)},
        grid: {drawOnChartArea: false, drawTicks: false},
        border: {color: '#000', width: 1.5}}
    }
  }),
  plugins: [rsiDeco]
});
</script>
</body>
</html>
